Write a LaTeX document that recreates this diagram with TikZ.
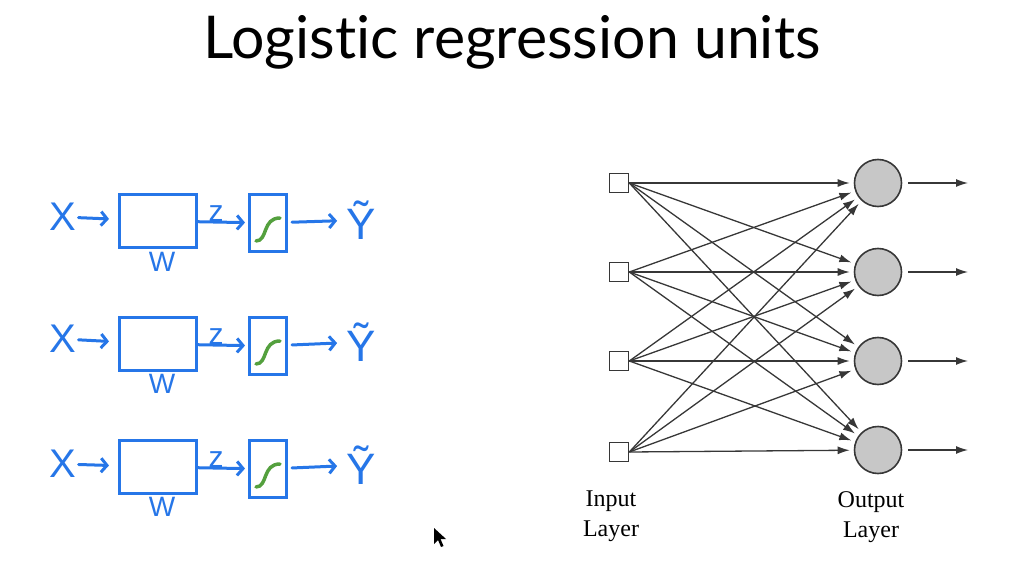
\documentclass[tikz,border=0pt]{standalone}
\usepackage{fontspec}
\setmainfont{Liberation Serif}
\newfontfamily\titlefont[Ligatures=NoCommon]{Lato}
\newfontfamily\penfont{Liberation Sans}
\usetikzlibrary{shapes.geometric, arrows.meta}
\definecolor{penblue}{RGB}{38,118,232}
\definecolor{pengreen}{RGB}{84,160,62}
\definecolor{netgray}{RGB}{55,55,55}
\tikzstyle{inputunit} = [
    rectangle,
    minimum size=19pt,
    inner sep=0pt,
    draw=netgray,
    line width=1.6pt,
    fill=white
]
\tikzstyle{outputunit} = [
    circle,
    minimum size=47pt,
    inner sep=0pt,
    draw=netgray,
    line width=1.6pt,
    fill=black!22
]
\tikzstyle{layerlabel} = [
    align=center,
    anchor=north,
    inner sep=0pt,
    font=\fontsize{24}{30}\selectfont
]
\tikzstyle{weightbox} = [
    rectangle,
    minimum width=77pt,
    minimum height=53pt,
    draw=penblue,
    line width=3pt
]
\tikzstyle{sigmoidbox} = [
    rectangle,
    minimum width=37pt,
    minimum height=57pt,
    draw=penblue,
    line width=3pt
]
\tikzstyle{pentext} = [text=penblue, inner sep=0pt, font=\penfont\fontsize{40}{40}\selectfont]
\tikzstyle{pensmall} = [text=penblue, inner sep=0pt, font=\penfont\fontsize{28}{28}\selectfont]
\tikzstyle{sigcurve} = [draw=pengreen, line width=3.5pt, line cap=round]
\tikzstyle{penarrow} = [draw=penblue, line width=3pt, line cap=round, -{Straight Barb[length=6pt,width=14pt]}]
\tikzstyle{netarrow} = [draw=netgray, line width=1.3pt, -{Latex[length=12pt,width=8pt]}]

\begin{document}
\begin{tikzpicture}[x=1pt, y=-1pt]
\useasboundingbox (0,0) rectangle (1024,577);

\node (title) [anchor=base, font=\titlefont\fontsize{59}{59}\selectfont] at (512,59)
{Logistic regression units};

% handwritten logistic units
\node (x1) [pentext] at (63,217) {X};
\node (box1) [weightbox] at (158,221) {};
\node (w1) [pensmall] at (162,262) {W};
\node (z1) [pensmall, font=\penfont\fontsize{30}{30}\selectfont] at (216,214) {z};
\node (sig1) [sigmoidbox] at (268,223) {};
\node (yhat1) [pentext, font=\penfont\fontsize{44}{44}\selectfont] at (361,220) {Ỹ};

\node (x2) [pentext] at (63,339) {X};
\node (box2) [weightbox] at (158,344) {};
\node (w2) [pensmall] at (162,384) {W};
\node (z2) [pensmall, font=\penfont\fontsize{30}{30}\selectfont] at (216,337) {z};
\node (sig2) [sigmoidbox] at (268,346) {};
\node (yhat2) [pentext, font=\penfont\fontsize{44}{44}\selectfont] at (361,342) {Ỹ};

\node (x3) [pentext] at (63,464) {X};
\node (box3) [weightbox] at (158,467) {};
\node (w3) [pensmall] at (162,507) {W};
\node (z3) [pensmall, font=\penfont\fontsize{30}{30}\selectfont] at (216,460) {z};
\node (sig3) [sigmoidbox] at (268,469) {};
\node (yhat3) [pentext, font=\penfont\fontsize{44}{44}\selectfont] at (361,465) {Ỹ};

\draw [penarrow, shorten <=2pt, shorten >=9pt] (x1) -- (box1);
\draw [penarrow, shorten >=3pt] (box1) -- (sig1);
\draw [penarrow, shorten <=4pt, shorten >=9pt] (sig1) -- (yhat1);
\draw [penarrow, shorten <=2pt, shorten >=9pt] (x2) -- (box2);
\draw [penarrow, shorten >=3pt] (box2) -- (sig2);
\draw [penarrow, shorten <=4pt, shorten >=9pt] (sig2) -- (yhat2);
\draw [penarrow, shorten <=2pt, shorten >=9pt] (x3) -- (box3);
\draw [penarrow, shorten >=3pt] (box3) -- (sig3);
\draw [penarrow, shorten <=4pt, shorten >=9pt] (sig3) -- (yhat3);

\draw [sigcurve] (256,241) .. controls (268,241) and (262,218) .. (280,218);
\draw [sigcurve] (256,364) .. controls (268,364) and (262,341) .. (280,341);
\draw [sigcurve] (256,487) .. controls (268,487) and (262,464) .. (280,464);

% network
\node (in1) [inputunit] at (619,183) {};
\node (in2) [inputunit] at (619,272) {};
\node (in3) [inputunit] at (619,361) {};
\node (in4) [inputunit] at (619,452) {};

\node (out1) [outputunit] at (878,183) {};
\node (out2) [outputunit] at (878,272) {};
\node (out3) [outputunit] at (878,361) {};
\node (out4) [outputunit] at (878,450) {};

\coordinate (end1) at (968,183);
\coordinate (end2) at (968,272);
\coordinate (end3) at (968,361);
\coordinate (end4) at (968,450);

\node (inlabel) [layerlabel] at (611,491) {Input\\Layer};
\node (outlabel) [layerlabel] at (871,491) {Output\\Layer};

\draw [netarrow, shorten >=4pt] (in1.east) -- (out1);
\draw [netarrow, shorten >=4pt] (in1.east) -- (out2);
\draw [netarrow, shorten >=4pt] (in1.east) -- (out3);
\draw [netarrow, shorten >=4pt] (in1.east) -- (out4);
\draw [netarrow, shorten >=4pt] (in2.east) -- (out1);
\draw [netarrow, shorten >=4pt] (in2.east) -- (out2);
\draw [netarrow, shorten >=4pt] (in2.east) -- (out3);
\draw [netarrow, shorten >=4pt] (in2.east) -- (out4);
\draw [netarrow, shorten >=4pt] (in3.east) -- (out1);
\draw [netarrow, shorten >=4pt] (in3.east) -- (out2);
\draw [netarrow, shorten >=4pt] (in3.east) -- (out3);
\draw [netarrow, shorten >=4pt] (in3.east) -- (out4);
\draw [netarrow, shorten >=4pt] (in4.east) -- (out1);
\draw [netarrow, shorten >=4pt] (in4.east) -- (out2);
\draw [netarrow, shorten >=4pt] (in4.east) -- (out3);
\draw [netarrow, shorten >=4pt] (in4.east) -- (out4);

\draw [netarrow, shorten <=6pt] (out1) -- (end1);
\draw [netarrow, shorten <=6pt] (out2) -- (end2);
\draw [netarrow, shorten <=6pt] (out3) -- (end3);
\draw [netarrow, shorten <=6pt] (out4) -- (end4);

% mouse pointer
\fill (434,528) -- (434,544) -- (438,540) -- (441,547) -- (443.5,546) -- (440.5,539) -- (446,539) -- cycle;

\end{tikzpicture}
\end{document}
